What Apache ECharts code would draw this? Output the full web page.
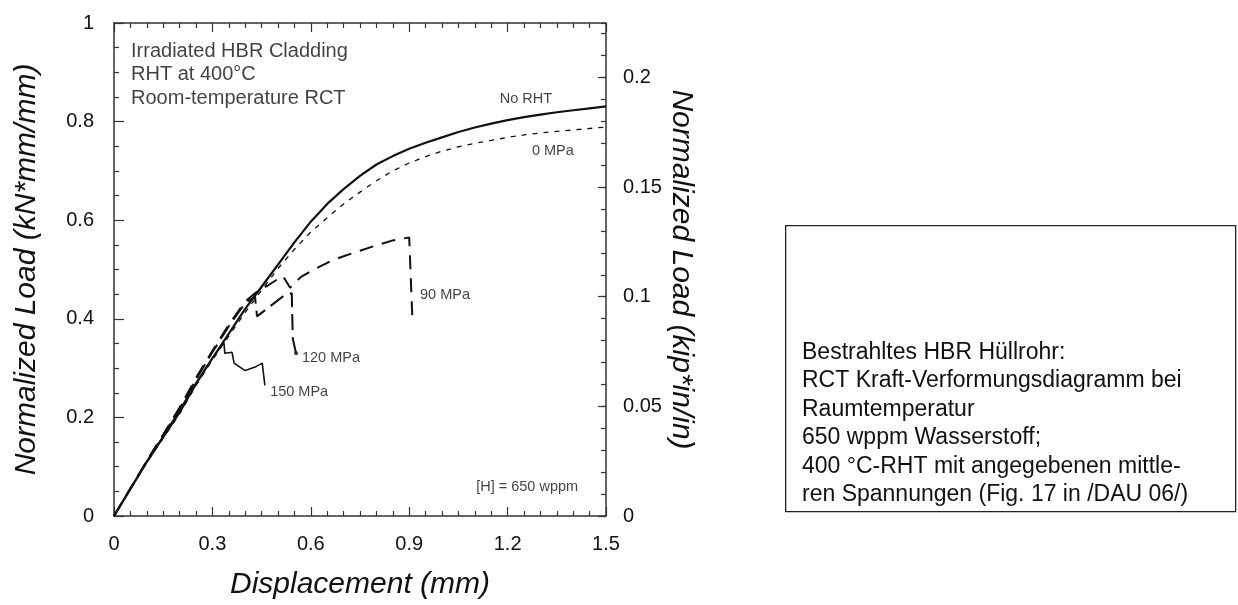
<!DOCTYPE html>
<html>
<head>
<meta charset="utf-8">
<script src="https://cdn.jsdelivr.net/npm/echarts@6/dist/echarts.min.js"></script>
<style>
  html, body { margin: 0; padding: 0; background: #fff; }
  #chart { width: 1238px; height: 605px; }
</style>
</head>
<body>
<div id="chart"></div>
<script>
// Ring compression test: normalized load vs. displacement, HBR cladding after RHT at 400 °C
const xTicks = [0, 0.3, 0.6, 0.9, 1.2, 1.5];
const leftTicks = [0, 0.2, 0.4, 0.6, 0.8, 1];
const rightTicks = [0, 0.05, 0.1, 0.15, 0.2];
const KN_PER_KIP = 4.448;

const noRht = [
  [0, 0], [0.05, 0.055], [0.1, 0.11], [0.15, 0.16], [0.2, 0.21], [0.25, 0.268],
  [0.3, 0.32], [0.35, 0.37], [0.4, 0.42], [0.45, 0.465], [0.5, 0.51], [0.55, 0.555],
  [0.6, 0.597], [0.65, 0.633], [0.7, 0.663], [0.75, 0.69], [0.8, 0.713], [0.85, 0.73],
  [0.9, 0.745], [0.95, 0.757], [1.0, 0.768], [1.05, 0.779], [1.1, 0.788], [1.15, 0.796],
  [1.2, 0.803], [1.25, 0.809], [1.3, 0.814], [1.35, 0.819], [1.4, 0.823], [1.45, 0.827],
  [1.5, 0.831]
];
const mpa0 = [
  [0, 0], [0.05, 0.054], [0.1, 0.108], [0.15, 0.158], [0.2, 0.207], [0.25, 0.265],
  [0.3, 0.316], [0.35, 0.365], [0.4, 0.413], [0.45, 0.458], [0.5, 0.502], [0.55, 0.541],
  [0.6, 0.576], [0.65, 0.605], [0.7, 0.633], [0.75, 0.657], [0.8, 0.68], [0.85, 0.7],
  [0.9, 0.716], [0.95, 0.729], [1.0, 0.74], [1.05, 0.749], [1.1, 0.756], [1.15, 0.762],
  [1.2, 0.768], [1.25, 0.773], [1.3, 0.777], [1.35, 0.78], [1.4, 0.783], [1.45, 0.786],
  [1.5, 0.789]
];
const mpa90 = [
  [0, 0], [0.05, 0.056], [0.1, 0.112], [0.15, 0.165], [0.2, 0.22], [0.25, 0.28],
  [0.3, 0.335], [0.35, 0.388], [0.4, 0.435], [0.43, 0.452], [0.47, 0.468], [0.515, 0.487],
  [0.537, 0.463], [0.57, 0.485], [0.61, 0.5], [0.66, 0.517], [0.7, 0.527], [0.75, 0.538],
  [0.8, 0.549], [0.85, 0.559], [0.9, 0.565], [0.905, 0.562], [0.91, 0.395]
];
const mpa120 = [
  [0, 0], [0.05, 0.056], [0.1, 0.111], [0.15, 0.164], [0.2, 0.218], [0.25, 0.277],
  [0.3, 0.332], [0.35, 0.385], [0.4, 0.432], [0.43, 0.445], [0.436, 0.405], [0.52, 0.448],
  [0.542, 0.452], [0.545, 0.36], [0.555, 0.33]
];
const mpa150 = [
  [0, 0], [0.05, 0.055], [0.1, 0.11], [0.15, 0.162], [0.2, 0.215], [0.25, 0.27],
  [0.3, 0.32], [0.335, 0.352], [0.338, 0.33], [0.36, 0.332], [0.366, 0.31], [0.4, 0.295],
  [0.43, 0.302], [0.452, 0.31], [0.46, 0.265]
];

// in-plot annotations: [x, y, text, align]
const notes = [
  [1.256, 0.845, 'No RHT', 'center'],
  [1.338, 0.740, '0 MPa', 'center'],
  [0.933, 0.448, '90 MPa', 'left'],
  [0.573, 0.321, '120 MPa', 'left'],
  [0.476, 0.252, '150 MPa', 'left'],
  [1.415, 0.058, '[H] = 650 wppm', 'right']
];
const headerLines = ['Irradiated HBR Cladding', 'RHT at 400°C', 'Room-temperature RCT'];
const headerPos = [[0.052, 0.942], [0.052, 0.895], [0.052, 0.847]];

const boxLines = [
  'Bestrahltes HBR Hüllrohr:',
  'RCT Kraft-Verformungsdiagramm bei',
  'Raumtemperatur',
  '650 wppm Wasserstoff;',
  '400 °C-RHT mit angegebenen mittle-',
  'ren Spannungen (Fig. 17 in /DAU 06/)'
];

const FONT = 'Liberation Sans, Arial, sans-serif';
const INK = '#111';
const AXIS = '#333';
const TITLE = { fontFamily: FONT, fontStyle: 'italic', fontSize: 30, color: INK };

const chart = echarts.init(document.getElementById('chart'), null, { renderer: 'canvas' });

function xAxisCfg(pos, showLabels) {
  return {
    type: 'value', position: pos, min: xTicks[0], max: xTicks[xTicks.length - 1],
    interval: xTicks[1] - xTicks[0],
    name: showLabels ? 'Displacement (mm)' : '',
    nameLocation: 'middle', nameGap: 54,
    nameTextStyle: TITLE,
    axisLine: { show: true, onZero: false, lineStyle: { color: AXIS, width: 1.5 } },
    axisTick: { show: true, inside: true, length: 9, lineStyle: { color: AXIS, width: 1.2 } },
    minorTick: { show: true, splitNumber: 6, length: 5, lineStyle: { color: AXIS, width: 1.2 } },
    axisLabel: { show: showLabels, margin: 18, fontFamily: FONT, fontSize: 20, color: INK },
    splitLine: { show: false }
  };
}

const series = [
  { name: 'No RHT', data: noRht, lineStyle: { color: INK, width: 2.2, type: 'solid' }, z: 5 },
  { name: '0 MPa', data: mpa0, lineStyle: { color: INK, width: 1.3, type: [5, 6] }, z: 4 },
  { name: '90 MPa', data: mpa90, lineStyle: { color: INK, width: 2, type: [14, 9] }, z: 3 },
  { name: '120 MPa', data: mpa120, lineStyle: { color: INK, width: 2, type: [16, 7] }, z: 3 },
  { name: '150 MPa', data: mpa150, lineStyle: { color: INK, width: 1.6, type: 'solid' }, z: 3 }
].map(s => Object.assign({
  type: 'line', xAxisIndex: 0, yAxisIndex: 0, showSymbol: false, symbol: 'none',
  smooth: false, animation: false, silent: true
}, s));

// curve labels and header text placed in data coordinates
series.push({
  type: 'scatter', xAxisIndex: 0, yAxisIndex: 0, symbolSize: 0, silent: true, animation: false,
  data: notes.map(n => ({
    value: [n[0], n[1]],
    label: {
      show: true, position: 'inside', formatter: n[2], align: n[3], verticalAlign: 'middle',
      fontFamily: FONT, fontSize: 14.5, color: INK
    }
  })).concat(headerLines.map((t, i) => ({
    value: headerPos[i],
    label: {
      show: true, position: 'inside', formatter: t, align: 'left', verticalAlign: 'middle',
      fontFamily: FONT, fontSize: 20, color: INK
    }
  })))
});

// 120 MPa end point
series.push({
  type: 'scatter', xAxisIndex: 0, yAxisIndex: 0, symbol: 'circle', symbolSize: 4,
  itemStyle: { color: INK }, silent: true, animation: false,
  data: [mpa120[mpa120.length - 1]]
});

const option = {
  backgroundColor: '#fff',
  animation: false,
  grid: { left: 114, right: 632, top: 23, bottom: 86, containLabel: false },
  xAxis: [xAxisCfg('bottom', true), xAxisCfg('top', false)],
  yAxis: [
    {
      type: 'value', position: 'left', min: leftTicks[0], max: leftTicks[leftTicks.length - 1],
      interval: leftTicks[1] - leftTicks[0],
      name: 'Normalized Load (kN*mm/mm)', nameLocation: 'middle', nameGap: 72,
      nameTextStyle: TITLE,
      axisLine: { show: true, onZero: false, lineStyle: { color: AXIS, width: 1.5 } },
      axisTick: { show: true, inside: true, length: 10, lineStyle: { color: AXIS, width: 1.2 } },
      minorTick: { show: true, splitNumber: 4, length: 5, lineStyle: { color: AXIS, width: 1.2 } },
      axisLabel: { margin: 20, fontFamily: FONT, fontSize: 20, color: INK },
      splitLine: { show: false }
    },
    {
      // kip*in/in scale: same physical range as the kN*mm/mm axis
      type: 'value', position: 'right', min: 0, max: leftTicks[leftTicks.length - 1] / KN_PER_KIP,
      interval: rightTicks[1] - rightTicks[0],
      name: 'Normalized Load (kip*in/in)', nameLocation: 'middle', nameGap: 60, nameRotate: -90,
      nameTextStyle: TITLE,
      axisLine: { show: true, onZero: false, lineStyle: { color: AXIS, width: 1.5 } },
      axisTick: { show: true, inside: true, length: 8, lineStyle: { color: AXIS, width: 1.2 } },
      axisLabel: { margin: 17, fontFamily: FONT, fontSize: 20, color: INK, showMaxLabel: false },
      splitLine: { show: false }
    },
    {
      // minor ticks on the kip scale
      type: 'value', position: 'right', min: 0, max: leftTicks[leftTicks.length - 1] / KN_PER_KIP,
      interval: 0.01,
      axisLine: { show: false, onZero: false },
      axisTick: { show: true, inside: true, length: 5, lineStyle: { color: AXIS, width: 1.2 } },
      axisLabel: { show: false },
      splitLine: { show: false }
    }
  ],
  series: series,
  graphic: [
    {
      type: 'rect', left: 785, top: 225,
      shape: { width: 450, height: 286 },
      style: { fill: '#fff', stroke: '#222', lineWidth: 1.3 }
    },
    {
      type: 'text', left: 802, top: 338,
      style: {
        text: boxLines.join('\n'), fontFamily: FONT, fontSize: 23, lineHeight: 28.5,
        fill: '#111'
      }
    }
  ]
};

chart.setOption(option);
</script>
</body>
</html>
